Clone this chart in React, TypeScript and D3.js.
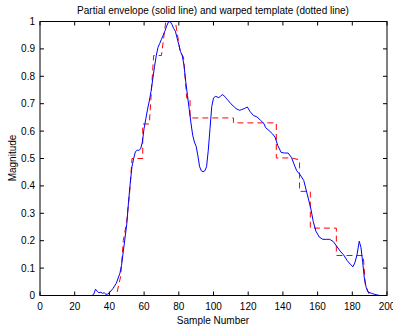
import React from "react";
import * as d3 from "d3";

const envX = [0, 30, 31, 32, 33, 34, 35, 36, 37, 38, 39, 40, 42, 44, 46, 47, 48, 49, 50, 51, 52, 53, 54, 55, 56, 57, 58, 59, 60, 61, 62, 63, 64, 65, 66, 67, 68, 69, 70, 71, 72, 73, 74, 75, 76, 77, 78, 79, 80, 81, 82, 83, 84, 85, 86, 87, 88, 89, 90, 91, 92, 93, 94, 95, 96, 97, 98, 99, 100, 101, 102, 103, 104, 105, 106, 107, 108, 110, 112, 113, 115, 116, 118, 119.5, 121, 123, 125, 127, 129, 130, 132, 134, 135.5, 137, 139, 141, 143, 145, 147, 148, 150, 152, 154, 156, 157.5, 159, 161, 163, 165, 167, 169, 171, 173, 175, 177, 179, 180.4, 181.5, 182.7, 184, 185, 186, 187, 188, 189, 191, 193, 195, 196];
const envY = [0, 0, 0.005, 0.023, 0.015, 0.01, 0.012, 0.008, 0.01, 0.004, 0.005, 0.01, 0.025, 0.045, 0.08, 0.11, 0.16, 0.21, 0.26, 0.34, 0.41, 0.47, 0.5, 0.525, 0.53, 0.53, 0.535, 0.56, 0.61, 0.645, 0.68, 0.71, 0.745, 0.79, 0.835, 0.875, 0.905, 0.92, 0.935, 0.95, 0.965, 0.983, 0.998, 1.0, 0.99, 0.975, 0.965, 0.94, 0.915, 0.89, 0.875, 0.84, 0.78, 0.73, 0.68, 0.63, 0.585, 0.56, 0.545, 0.51, 0.47, 0.455, 0.452, 0.455, 0.47, 0.53, 0.61, 0.69, 0.72, 0.727, 0.725, 0.722, 0.727, 0.733, 0.73, 0.722, 0.715, 0.7, 0.688, 0.682, 0.676, 0.678, 0.683, 0.688, 0.672, 0.657, 0.652, 0.64, 0.628, 0.613, 0.602, 0.59, 0.578, 0.548, 0.522, 0.52, 0.52, 0.503, 0.47, 0.455, 0.44, 0.42, 0.37, 0.32, 0.27, 0.235, 0.213, 0.205, 0.205, 0.205, 0.197, 0.18, 0.162, 0.148, 0.128, 0.113, 0.105, 0.12, 0.148, 0.198, 0.175, 0.12, 0.06, 0.03, 0.013, 0.008, 0.004, 0.001, 0];

const tmplX = [0, 44, 46.5, 48, 50, 52, 53, 59.2, 59.2, 63, 65.5, 70, 72.5, 78, 80.8, 82.7, 84.6, 86.5, 86.5, 111.5, 111.5, 136.2, 136.2, 145, 149.6, 149.6, 155.8, 155.8, 170.8, 170.8, 186.3, 187.5, 190, 196];
const tmplY = [0, 0, 0.07, 0.2, 0.27, 0.4, 0.5, 0.5, 0.626, 0.626, 0.876, 0.876, 1, 1, 0.89, 0.87, 0.72, 0.72, 0.648, 0.648, 0.63, 0.63, 0.502, 0.502, 0.495, 0.38, 0.38, 0.246, 0.246, 0.146, 0.146, 0.04, 0, 0];

const xTicks = [0, 20, 40, 60, 80, 100, 120, 140, 160, 180, 200];
const yTicks = [0, 0.1, 0.2, 0.3, 0.4, 0.5, 0.6, 0.7, 0.8, 0.9, 1];

const W = 393, H = 329;
const L = 40, R = 387, T = 21.5, B = 295.5;
const FONT = "'Liberation Sans', Arial, Helvetica, sans-serif";

export default function App() {
  const x = d3.scaleLinear().domain([0, 200]).range([L, R]);
  const y = d3.scaleLinear().domain([0, 1]).range([B, T]);
  const line = d3.line<[number, number]>().x(d => x(d[0])).y(d => y(d[1]));
  const env = line(envX.map((v, i) => [v, envY[i]] as [number, number])) || "";
  const tmpl = line(tmplX.map((v, i) => [v, tmplY[i]] as [number, number])) || "";
  const tl = 4;
  return (
    <svg width={W} height={H} style={{ position: "absolute", left: 0, top: 0, background: "#fff" }} fontFamily={FONT}>
      <rect x={0} y={0} width={W} height={H} fill="#fff" />
      <text x={213} y={14} fontSize={10} textAnchor="middle" fill="#000">Partial envelope (solid line) and warped template (dotted line)</text>
      <path d={tmpl} fill="none" stroke="#ff0000" strokeWidth={1} strokeDasharray="6,4" />
      <path d={env} fill="none" stroke="#0000ff" strokeWidth={1} />
      <rect x={L} y={T} width={R - L} height={B - T} fill="none" stroke="#000" strokeWidth={1} />
      {xTicks.map(t => (
        <g key={"x" + t}>
          <line x1={x(t)} x2={x(t)} y1={B} y2={B - tl} stroke="#000" />
          <line x1={x(t)} x2={x(t)} y1={T} y2={T + tl} stroke="#000" />
          <text x={x(t)} y={B + 14} fontSize={10} textAnchor="middle" fill="#000">{t}</text>
        </g>
      ))}
      {yTicks.map(t => (
        <g key={"y" + t}>
          <line x1={L} x2={L + tl} y1={y(t)} y2={y(t)} stroke="#000" />
          <line x1={R} x2={R - tl} y1={y(t)} y2={y(t)} stroke="#000" />
          <text x={L - 5} y={y(t) + 3.5} fontSize={10} textAnchor="end" fill="#000">{d3.format("~g")(t)}</text>
        </g>
      ))}
      <text x={213} y={324} fontSize={10} textAnchor="middle" fill="#000">Sample Number</text>
      <text transform={`translate(16,158) rotate(-90)`} fontSize={10} textAnchor="middle" fill="#000">Magnitude</text>
    </svg>
  );
}
